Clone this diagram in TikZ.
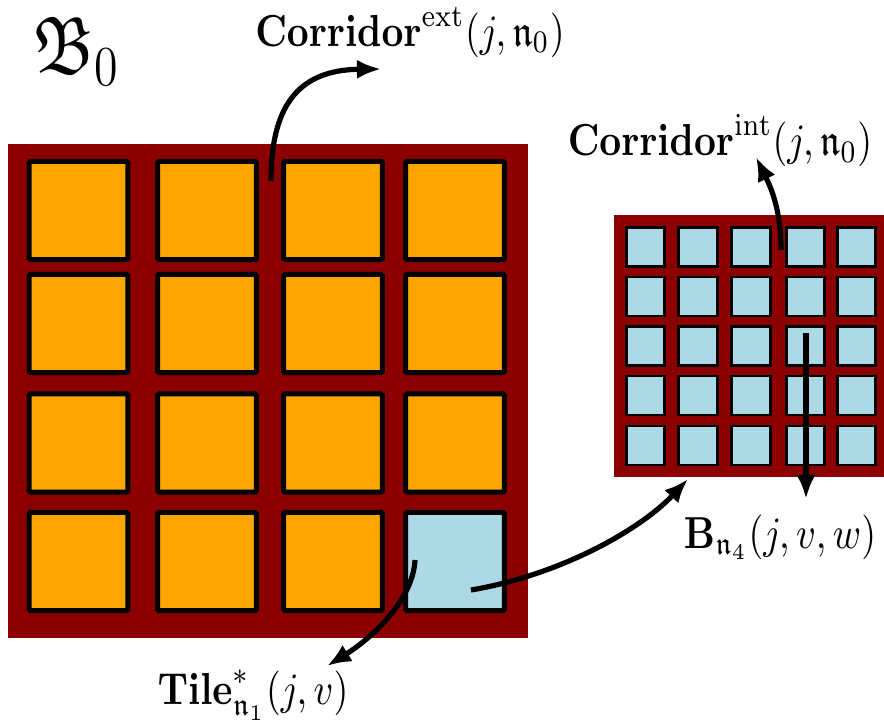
\documentclass[tikz,border=0pt]{standalone}
\usepackage{amsmath,amssymb,amsfonts}
\usepackage{graphicx}
\usetikzlibrary{arrows.meta}
\definecolor{corr}{HTML}{8B0000}
\definecolor{tileor}{HTML}{FFA500}
\definecolor{tilebl}{HTML}{ADD8E6}
\newcommand{\vst}[1]{\scalebox{1.03}[1.21]{#1}}
\newcommand{\vsb}[1]{\scalebox{1.08}[1.27]{#1}}
\begin{document}
\begin{tikzpicture}[x=0.27pt,y=-0.27pt,
  bigtile/.style={draw=black, line width=1.35pt, minimum width=26.7pt, minimum height=26.5pt, inner sep=0pt, rounded corners=0.4pt},
  smalltile/.style={draw=black, line width=0.7pt, fill=tilebl, minimum width=10.4pt, minimum height=10.6pt, inner sep=0pt},
  arr/.style={line width=1.4pt, -{Latex[length=6.5pt,width=5.2pt]}},
  lab/.style={inner sep=0pt}]
\useasboundingbox (0,0) rectangle (884,726);
% corridor (red) squares
\fill[corr] (8,144) rectangle (528,638);
\fill[corr] (614,215) rectangle (884,477);
% big tiles
\foreach \x [count=\c] in {78.5,207,333,455} {
  \foreach \y [count=\r] in {210.5,323.5,443,561.5} {
    \ifnum\numexpr\r*10+\c\relax=44 \def\tc{tilebl}\else\def\tc{tileor}\fi
    \node[bigtile, fill=\tc] (b\r\c) at (\x,\y) {};
  }
}
% small tiles
\foreach \x [count=\c] in {645.5,698,751,805.5,856.5} {
  \foreach \y [count=\r] in {247,296.5,346,395.5,445.5} {
    \node[smalltile] (s\r\c) at (\x,\y) {};
  }
}
% labels
\node[lab] (bzero) at (77,51) {\vsb{\LARGE$\mathfrak{B}_0$}};
\node[lab] (cext) at (410,32) {\vst{$\mathbf{Corridor}^{\mathrm{ext}}(j,\mathfrak{n}_0)$}};
\node[lab] (cint) at (720,141) {\vst{$\mathbf{Corridor}^{\mathrm{int}}(j,\mathfrak{n}_0)$}};
\node[lab] (bnf) at (780,537) {\vst{$\mathbf{B}_{\mathfrak{n}_4}(j,v,w)$}};
\node[lab] (tile) at (253,695) {\vst{$\mathbf{Tile}^{*}_{\mathfrak{n}_1}(j,v)$}};
% connector ends
\coordinate (ceS) at (271,181);
\coordinate (ceT) at (381,69);
\coordinate (ciS) at (781,250);
\coordinate (ciT) at (756,157);
\coordinate (bS) at (806,333);
\coordinate (bT) at (806,499);
\coordinate (tsS) at (471,590);
\coordinate (tsT) at (688,479);
\coordinate (tlS) at (415,560);
\coordinate (tlT) at (327,666);
% connectors
\draw[arr] (ceS) .. controls (271,110) and (295,70) .. (ceT);
\draw[arr] (ciS) .. controls (781,205) and (768,182) .. (ciT);
\draw[arr] (bS) -- (bT);
\draw[arr] (tsS) .. controls (560,575) and (640,530) .. (tsT);
\draw[arr] (tlS) .. controls (413,600) and (372,638) .. (tlT);
\end{tikzpicture}
\end{document}
